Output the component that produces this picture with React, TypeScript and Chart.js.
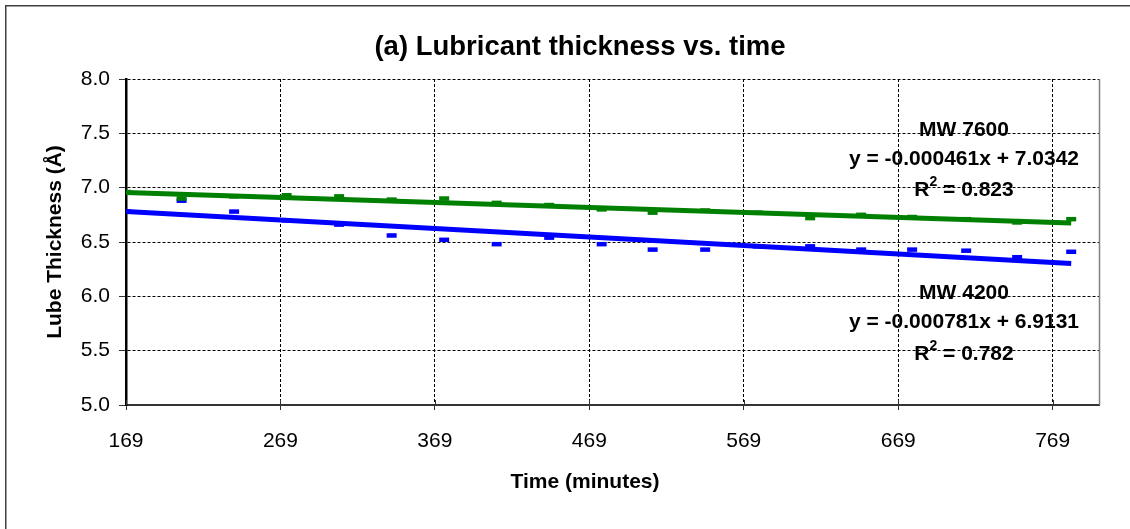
import React, { useEffect, useRef } from "react";
import { Chart, registerables } from "chart.js";

Chart.register(...registerables);

const FONT = '"Liberation Sans", Arial, Helvetica, sans-serif';

// ---- data ----
const timeMinutes = [169, 205, 239, 273, 307, 341, 375, 409, 443, 477, 510, 544, 578, 612, 645, 678, 713, 746, 781];
const mw7600 = [6.96, 6.9, 6.92, 6.93, 6.92, 6.89, 6.9, 6.86, 6.84, 6.8, 6.77, 6.79, 6.77, 6.72, 6.75, 6.73, 6.71, 6.68, 6.71];
const mw4200 = [6.78, 6.88, 6.78, 6.7, 6.66, 6.56, 6.52, 6.48, 6.54, 6.48, 6.43, 6.43, 6.46, 6.46, 6.43, 6.43, 6.42, 6.36, 6.41];

const xTickValues = [169, 269, 369, 469, 569, 669, 769];
const yTickValues = [5.0, 5.5, 6.0, 6.5, 7.0, 7.5, 8.0];

const fit7600 = { name: "MW 7600", slope: -0.000461, intercept: 7.0342, r2: "0.823" };
const fit4200 = { name: "MW 4200", slope: -0.000781, intercept: 6.9131, r2: "0.782" };

const chartTitle = "(a) Lubricant thickness vs. time";
const xTitle = "Time (minutes)";
const yTitle = "Lube Thickness (Å)";

const GREEN = "#008000";
const BLUE = "#0000FF";

function trendPoints(fit: { slope: number; intercept: number }) {
  const x0 = timeMinutes[0];
  const x1 = timeMinutes[timeMinutes.length - 1];
  return [
    { x: x0, y: fit.intercept + fit.slope * x0 },
    { x: x1, y: fit.intercept + fit.slope * x1 },
  ];
}

function drawR2(ctx: CanvasRenderingContext2D, r2: string, cx: number, cy: number) {
  const big = `bold 21px ${FONT}`;
  const small = `bold 14px ${FONT}`;
  ctx.font = big;
  const wR = ctx.measureText("R").width;
  const rest = " = " + r2;
  const wRest = ctx.measureText(rest).width;
  ctx.font = small;
  const w2 = ctx.measureText("2").width;
  let x = cx - (wR + w2 + wRest) / 2;
  ctx.textAlign = "left";
  ctx.font = big;
  ctx.fillText("R", x, cy);
  x += wR;
  ctx.font = small;
  ctx.fillText("2", x, cy - 8);
  x += w2;
  ctx.font = big;
  ctx.fillText(rest, x, cy);
}

const overlayPlugin = {
  id: "overlay",
  afterDraw(chart: any) {
    const ctx: CanvasRenderingContext2D = chart.ctx;
    const a = chart.chartArea;
    ctx.save();
    // outer frame
    ctx.strokeStyle = "#404040";
    ctx.lineWidth = 1.5;
    ctx.beginPath();
    ctx.moveTo(5.75, 700);
    ctx.lineTo(5.75, 5.75);
    ctx.lineTo(1300, 5.75);
    ctx.stroke();
    // right border of plot area
    ctx.strokeStyle = "#808080";
    ctx.lineWidth = 1.5;
    const rx = Math.round(a.right) + 0.5;
    ctx.beginPath();
    ctx.moveTo(rx, a.top);
    ctx.lineTo(rx, a.bottom);
    ctx.stroke();
    // inner part of x tick marks
    const xs = chart.scales.x;
    ctx.strokeStyle = "#333";
    ctx.lineWidth = 1;
    for (const v of xTickValues) {
      const px = Math.round(xs.getPixelForValue(v)) + 0.5;
      ctx.beginPath();
      ctx.moveTo(px, a.bottom - 5);
      ctx.lineTo(px, a.bottom);
      ctx.stroke();
    }
    // titles
    ctx.fillStyle = "#000";
    ctx.textAlign = "center";
    ctx.textBaseline = "middle";
    ctx.font = `bold 27.5px ${FONT}`;
    ctx.fillText(chartTitle, 580, 47);
    ctx.font = `bold 21px ${FONT}`;
    ctx.fillText(xTitle, 585, 482);
    ctx.save();
    ctx.translate(55.5, 242);
    ctx.rotate(-Math.PI / 2);
    ctx.fillText(yTitle, 0, 0);
    ctx.restore();
    // trendline labels
    const cx = 964;
    const groups = [
      { fit: fit7600, ys: [130, 159, 190] },
      { fit: fit4200, ys: [293, 322, 354] },
    ];
    for (const g of groups) {
      ctx.textAlign = "center";
      ctx.font = `bold 21px ${FONT}`;
      ctx.fillText(g.fit.name, cx, g.ys[0]);
      const eq = `y = ${g.fit.slope.toFixed(6)}x + ${g.fit.intercept.toFixed(4)}`;
      ctx.fillText(eq, cx, g.ys[1]);
      drawR2(ctx, g.fit.r2, cx, g.ys[2]);
    }
    ctx.restore();
  },
};

export default function App() {
  const ref = useRef<HTMLCanvasElement | null>(null);

  useEffect(() => {
    if (!ref.current) return;
    const hideAt = (v: number) => (c: any) =>
      c.tick && Math.abs(c.tick.value - v) < 1e-9 ? "rgba(0,0,0,0)" : "#000";

    const chart = new Chart(ref.current, {
      type: "scatter",
      data: {
        datasets: [
          {
            type: "line",
            label: "MW 7600 trend",
            data: trendPoints(fit7600),
            borderColor: GREEN,
            borderWidth: 5,
            pointRadius: 0,
            fill: false,
            order: 0,
          },
          {
            type: "line",
            label: "MW 4200 trend",
            data: trendPoints(fit4200),
            borderColor: BLUE,
            borderWidth: 5,
            pointRadius: 0,
            fill: false,
            order: 0,
          },
          {
            label: "MW 7600",
            data: timeMinutes.map((x, i) => ({ x, y: mw7600[i] })),
            pointStyle: "line",
            pointRadius: 5,
            pointBorderWidth: 4.5,
            borderColor: GREEN,
            backgroundColor: GREEN,
            showLine: false,
            order: 1,
          },
          {
            label: "MW 4200",
            data: timeMinutes.map((x, i) => ({ x, y: mw4200[i] })),
            pointStyle: "line",
            pointRadius: 5,
            pointBorderWidth: 4.5,
            borderColor: BLUE,
            backgroundColor: BLUE,
            showLine: false,
            order: 1,
          },
        ] as any,
      },
      options: {
        responsive: false,
        animation: false,
        events: [],
        devicePixelRatio: 1,
        layout: { padding: { top: 79, right: 31, left: 0, bottom: 0 } },
        plugins: {
          legend: { display: false },
          tooltip: { enabled: false },
          title: { display: false },
        },
        scales: {
          x: {
            type: "linear",
            min: 169,
            max: 799,
            afterBuildTicks: (s: any) => {
              s.ticks = xTickValues.map((v) => ({ value: v }));
            },
            afterFit: (s: any) => {
              s.height = 124;
            },
            ticks: {
              color: "#000",
              font: { family: FONT, size: 21 },
              padding: 19,
              maxRotation: 0,
              autoSkip: false,
              callback: (v: any) => String(v),
            },
            grid: {
              color: hideAt(169),
              lineWidth: 1,
              tickLength: 5,
              tickColor: "#333",
            },
            border: { display: true, color: "#333", width: 2, dash: [3, 2] },
          },
          y: {
            type: "linear",
            min: 5,
            max: 8,
            afterBuildTicks: (s: any) => {
              s.ticks = yTickValues.map((v) => ({ value: v }));
            },
            afterFit: (s: any) => {
              s.width = 126;
            },
            ticks: {
              color: "#000",
              font: { family: FONT, size: 21 },
              padding: 9,
              autoSkip: false,
              callback: (v: any) => Number(v).toFixed(1),
            },
            grid: {
              color: hideAt(5),
              lineWidth: 1,
              tickLength: 7,
              tickColor: "#333",
            },
            border: { display: true, color: "#000", width: 2.5, dash: [3, 2] },
          },
        },
      } as any,
      plugins: [overlayPlugin],
    });
    return () => chart.destroy();
  }, []);

  return (
    <div style={{ position: "fixed", left: 0, top: 0, width: 1130, height: 529, background: "#fff" }}>
      <canvas ref={ref} width={1130} height={529} style={{ display: "block" }} />
    </div>
  );
}
